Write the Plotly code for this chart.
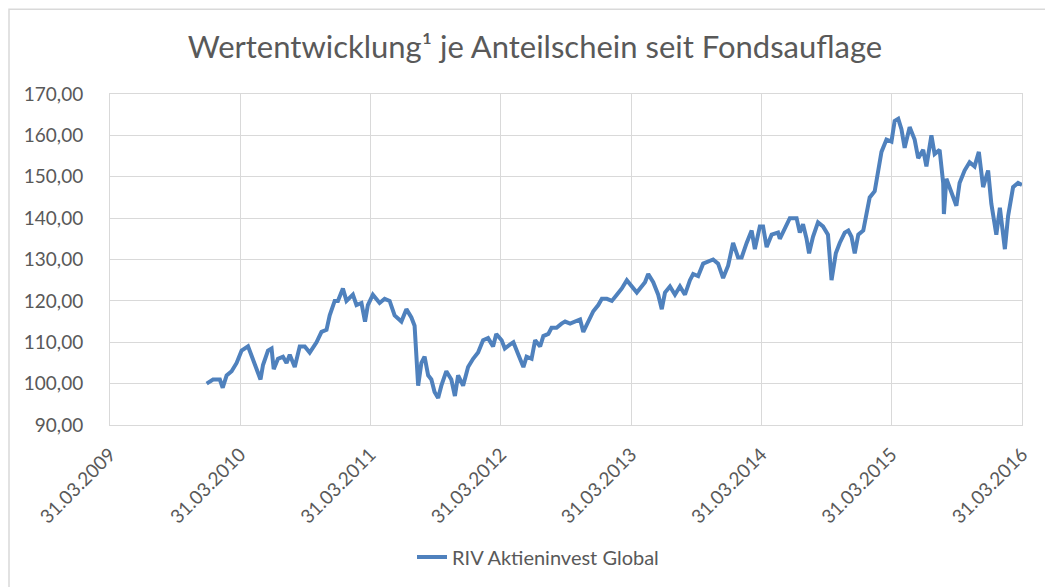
import plotly.graph_objects as go

dates = [
    "2009-12-27", "2010-01-14", "2010-02-02", "2010-02-10", "2010-02-21", "2010-03-07", "2010-03-21",
    "2010-04-04", "2010-04-22", "2010-05-06", "2010-05-16", "2010-05-27", "2010-06-03", "2010-06-17",
    "2010-06-27", "2010-07-03", "2010-07-15", "2010-07-29", "2010-08-08", "2010-08-17", "2010-08-31",
    "2010-09-14", "2010-09-28", "2010-10-12", "2010-10-31", "2010-11-14", "2010-11-28", "2010-12-07",
    "2010-12-21", "2010-12-30", "2011-01-13", "2011-01-23", "2011-02-10", "2011-02-20", "2011-03-06",
    "2011-03-16", "2011-03-24",
    "2011-04-07", "2011-04-26", "2011-05-10", "2011-05-24", "2011-06-07", "2011-06-26", "2011-07-10",
    "2011-07-24", "2011-08-02", "2011-08-12", "2011-08-21", "2011-08-30", "2011-09-09", "2011-09-18",
    "2011-09-27", "2011-10-07", "2011-10-16", "2011-10-30", "2011-11-13", "2011-11-23", "2011-12-02",
    "2011-12-16", "2011-12-30", "2012-01-13", "2012-01-27", "2012-02-10", "2012-02-24", "2012-03-09",
    "2012-03-18",
    "2012-04-02", "2012-04-11", "2012-04-26", "2012-05-05", "2012-05-19", "2012-06-02", "2012-06-11",
    "2012-06-25", "2012-07-05", "2012-07-19", "2012-07-28", "2012-08-11", "2012-08-20", "2012-09-03",
    "2012-09-17", "2012-09-27", "2012-10-11", "2012-10-25", "2012-11-08", "2012-11-17", "2012-12-01",
    "2012-12-15", "2012-12-29", "2013-01-08", "2013-01-22", "2013-02-05", "2013-02-19", "2013-03-05",
    "2013-03-19",
    "2013-04-02", "2013-04-16", "2013-04-25", "2013-05-09", "2013-05-18", "2013-06-01", "2013-06-15",
    "2013-06-25", "2013-07-04", "2013-07-18", "2013-08-01", "2013-08-15", "2013-08-29", "2013-09-12",
    "2013-09-21", "2013-10-05", "2013-10-19", "2013-11-02", "2013-11-16", "2013-11-30", "2013-12-14",
    "2013-12-28", "2014-01-11", "2014-01-25", "2014-02-04", "2014-02-18", "2014-03-04", "2014-03-13",
    "2014-03-27",
    "2014-04-05", "2014-04-15", "2014-04-29", "2014-05-17", "2014-05-22", "2014-06-05", "2014-06-19",
    "2014-07-08", "2014-07-17", "2014-07-26", "2014-08-05", "2014-08-12", "2014-08-23", "2014-09-06",
    "2014-09-20", "2014-10-04", "2014-10-14", "2014-10-26", "2014-11-06", "2014-11-20", "2014-11-30",
    "2014-12-09", "2014-12-18", "2014-12-28", "2015-01-11", "2015-01-20", "2015-01-29", "2015-02-12",
    "2015-02-22", "2015-03-03", "2015-03-17",
    "2015-03-31", "2015-04-09", "2015-04-19", "2015-04-28", "2015-05-07", "2015-05-21", "2015-06-04",
    "2015-06-14", "2015-06-28", "2015-07-07", "2015-07-21", "2015-07-30", "2015-08-13", "2015-08-23",
    "2015-08-25", "2015-09-01", "2015-09-15", "2015-09-29", "2015-10-08", "2015-10-22", "2015-11-05",
    "2015-11-19", "2015-12-01", "2015-12-13", "2015-12-27", "2016-01-05", "2016-01-19", "2016-01-29",
    "2016-02-12", "2016-02-21", "2016-03-06", "2016-03-20", "2016-03-31",
]

values = [
    100, 101, 101, 99, 102, 103, 105,
    108, 109, 106, 104, 101, 104.5, 108,
    108.5, 103.5, 106, 106.5, 105, 107, 104,
    109, 109, 107.5, 110, 112.5, 113, 116.5,
    120, 120, 123, 120, 121.5, 119, 119.5,
    115, 119,
    121.5, 119.5, 120.5, 120, 116.5, 115, 118,
    116, 114, 99.5, 105, 106.5, 102, 101,
    98, 96.5, 99.5, 103, 101, 97, 102,
    99.5, 104, 106, 107.5, 110.5, 111, 109,
    112,
    110.5, 108.5, 109.5, 110, 107, 104, 106.5,
    106, 110.5, 109, 111.5, 112, 113.5, 113.5,
    114.5, 115, 114.5, 115, 115.5, 112.5, 115,
    117.5, 119, 120.5, 120.5, 120, 121.5, 123,
    125,
    123.5, 122, 123, 124.5, 126.5, 124.5, 121.5,
    118, 122, 123.5, 121.5, 123.5, 121.5, 125,
    126.5, 126, 129, 129.5, 130, 129, 125.5,
    128.5, 134, 130.5, 130.5, 134, 137, 132.5,
    138,
    138, 133, 136, 136.5, 135, 137.5, 140,
    140, 136.5, 138.5, 135, 131.5, 135.5, 139,
    138, 136, 125, 131.5, 134, 136.5, 137,
    135.5, 131.5, 136, 137, 141, 145, 146.5,
    151, 156, 159,
    158.5, 163.5, 164, 161.5, 157, 162, 159,
    154.5, 156.5, 152.5, 160, 155.5, 156.5, 148.5,
    141, 149.5, 146, 143, 148.5, 151.5, 153.5,
    152.5, 156, 147.5, 151.5, 143.5, 136, 142.5,
    132.5, 140.5, 147.5, 148.5, 148,
]

tick_dates = ["2009-03-31", "2010-03-31", "2011-03-31", "2012-03-31",
              "2013-03-31", "2014-03-31", "2015-03-31", "2016-03-31"]
tick_labels = ["31.03.2009", "31.03.2010", "31.03.2011", "31.03.2012",
               "31.03.2013", "31.03.2014", "31.03.2015", "31.03.2016"]

series_name = "RIV Aktieninvest Global"
title_text = "Wertentwicklung¹ je Anteilschein seit Fondsauflage"

FONT = "Lato"
TXT = "#595959"
GRID = "#d9d9d9"

fig = go.Figure()
fig.add_trace(go.Scatter(
    x=dates, y=values, mode="lines", name=series_name,
    line=dict(color="#4F81BD", width=4),
))

OFF = 8  # page body margin
W, H = 1053 - OFF, 587 - OFF
L, T = 110 - OFF, 94 - OFF
pw, ph = 912, 332
R = W - L - pw
B = H - T - ph

def px_x(p):  # page pixel -> paper x
    return (p - OFF - L) / pw

def px_y(p):  # page pixel -> paper y
    return (T + ph - (p - OFF)) / ph

fig.update_layout(
    width=W, height=H,
    margin=dict(l=L, r=R, t=T, b=B),
    paper_bgcolor="white", plot_bgcolor="white",
    separators=",.",
    font=dict(family=FONT, color=TXT, size=19),
    title=dict(text=title_text, x=(535 - OFF) / W, xanchor="center",
               y=1 - (47 - OFF) / H, yanchor="middle", yref="container",
               font=dict(family=FONT, size=31, color=TXT)),
    showlegend=True,
    legend=dict(orientation="h", x=px_x(538), xanchor="center",
                y=px_y(557), yanchor="middle",
                font=dict(family=FONT, size=20, color=TXT)),
    xaxis=dict(type="date", range=["2009-03-31", "2016-03-31"],
               tickvals=tick_dates, ticktext=tick_labels, tickangle=-45,
               showgrid=True, gridcolor=GRID, gridwidth=1,
               showline=True, linecolor=GRID, linewidth=1, mirror=True,
               ticks="", ticklabelstandoff=10, zeroline=False,
               tickfont=dict(family=FONT, size=19, color=TXT)),
    yaxis=dict(range=[90, 170], dtick=10, tick0=90, tickformat=".2f",
               showgrid=True, gridcolor=GRID, gridwidth=1,
               showline=True, linecolor=GRID, linewidth=1, mirror=True,
               ticks="", ticklabelstandoff=22, zeroline=False,
               tickfont=dict(family=FONT, size=19, color=TXT)),
    shapes=[dict(type="rect", xref="paper", yref="paper",
                 x0=px_x(9), x1=px_x(1070), y0=px_y(600), y1=px_y(9),
                 line=dict(color="#d9d9d9", width=1.5), fillcolor="rgba(0,0,0,0)",
                 layer="below")],
)

fig.write_html("out.html")
